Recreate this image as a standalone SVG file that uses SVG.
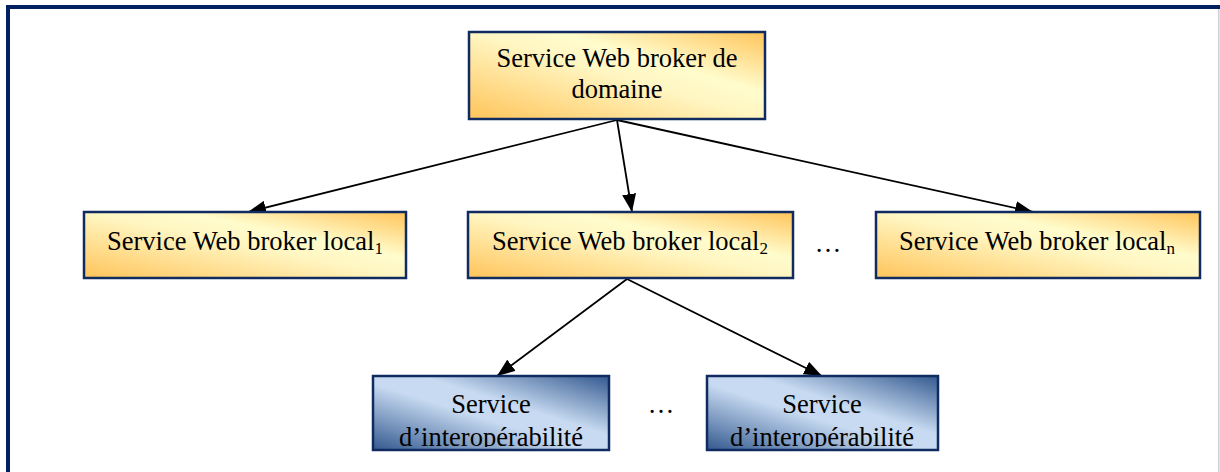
<svg xmlns="http://www.w3.org/2000/svg" width="1220" height="472" viewBox="0 0 1220 472">
<style>
.box{stroke:#102B60;stroke-width:2.5}
.orange{fill:url(#gOrange)}
.blue{fill:url(#gBlue)}
.t{font-family:"Liberation Serif","Times New Roman",serif;font-size:26.5px;fill:#000;text-anchor:middle}
.conn line{stroke:#000;stroke-width:1.8;marker-end:url(#arrow)}
</style>
<defs>
<linearGradient id="gOrange" x1="0" y1="1" x2="1" y2="0">
<stop offset="0" stop-color="#FFC45A"/>
<stop offset="0.5" stop-color="#FFF6C2"/>
<stop offset="0.65" stop-color="#FFFCCC"/>
<stop offset="1" stop-color="#FFC45A"/>
</linearGradient>
<linearGradient id="gBlue" x1="0" y1="1" x2="1" y2="0">
<stop offset="0" stop-color="#33598F"/>
<stop offset="0.45" stop-color="#C7DAF1"/>
<stop offset="0.6" stop-color="#C7DAF1"/>
<stop offset="1" stop-color="#33598F"/>
</linearGradient>
<marker id="arrow" markerWidth="18" markerHeight="14" refX="18" refY="7" orient="auto" markerUnits="userSpaceOnUse">
<path d="M0,0 L18,7 L0,14 Z" fill="#000"/>
</marker>
<clipPath id="clipI1"><rect x="373" y="376" width="236" height="71"/></clipPath>
<clipPath id="clipI2"><rect x="707" y="376" width="231" height="71"/></clipPath>
</defs>
<rect x="0" y="0" width="1220" height="472" fill="#fff"/>
<g id="frame">
<rect x="6" y="5" width="1214" height="4" fill="#002060"/>
<rect x="6" y="5" width="4" height="467" fill="#002060"/>
<rect x="1218" y="9" width="1.5" height="463" fill="#C9CED8"/>
</g>
<g id="connectors" class="conn">
<line x1="617" y1="120" x2="248" y2="212"/>
<line x1="617" y1="120" x2="632" y2="212"/>
<line x1="617" y1="120" x2="1033" y2="212"/>
<line x1="627" y1="279" x2="497" y2="376"/>
<line x1="627" y1="279" x2="822" y2="376"/>
</g>
<g id="domaine">
<rect class="box orange" x="469" y="32" width="296" height="87"/>
<text class="t" x="617" y="67">Service Web broker de</text>
<text class="t" x="617" y="98">domaine</text>
</g>
<g id="local1">
<rect class="box orange" x="84" y="212" width="322" height="66"/>
<text class="t" x="245" y="250">Service Web broker local<tspan font-size="17" dy="4">1</tspan></text>
</g>
<g id="local2">
<rect class="box orange" x="468" y="212" width="325" height="66"/>
<text class="t" x="630" y="250">Service Web broker local<tspan font-size="17" dy="4">2</tspan></text>
</g>
<g id="dots1">
<text class="t" x="828" y="252">…</text>
</g>
<g id="localn">
<rect class="box orange" x="876" y="212" width="324" height="66"/>
<text class="t" x="1037" y="250">Service Web broker local<tspan font-size="17" dy="4">n</tspan></text>
</g>
<g id="interop1">
<rect class="box blue" x="373" y="376" width="236" height="74"/>
<g clip-path="url(#clipI1)">
<text class="t" x="491" y="413">Service</text>
<text class="t" x="491" y="446">d’interopérabilité</text>
</g>
</g>
<g id="dots2">
<text class="t" x="661" y="413">…</text>
</g>
<g id="interop2">
<rect class="box blue" x="707" y="376" width="231" height="74"/>
<g clip-path="url(#clipI2)">
<text class="t" x="822" y="413">Service</text>
<text class="t" x="822" y="446">d’interopérabilité</text>
</g>
</g>
</svg>
